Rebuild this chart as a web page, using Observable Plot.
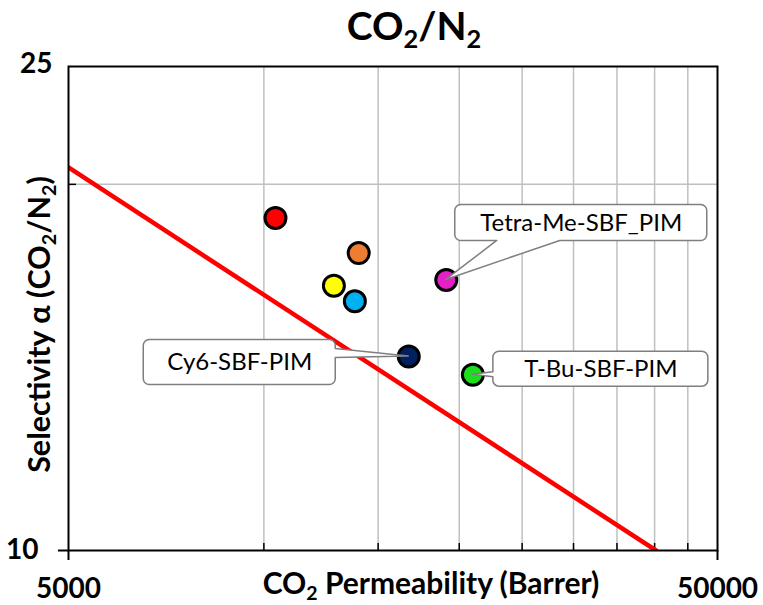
<!DOCTYPE html>
<html><head><meta charset="utf-8">
<script src="https://cdn.jsdelivr.net/npm/d3@7"></script>
<script src="https://cdn.jsdelivr.net/npm/@observablehq/plot@0.6"></script>
<style>html,body{margin:0;padding:0;background:#fff}</style>
</head><body><div id="chart"></div>
<script>
// ---- data ----
const permeability = [10420, 14000, 12820, 13810, 16720, 19100, 20990];
const selectivity  = [18.77, 17.56, 16.51, 16.03, 14.44, 16.69, 13.95];
const pointColors  = ["#FF0000", "#ED7D31", "#FFFF00", "#00B0F0", "#002060", "#E61EC8", "#1EDC1E"];
const pointLabels  = ["", "", "", "", "Cy6-SBF-PIM", "Tetra-Me-SBF_PIM", "T-Bu-SBF-PIM"];
const boundP       = [5000, 40200];   // upper bound line
const boundAlpha   = [20.65, 10];
const xTickLabels  = [5000, 50000];
const yTickLabels  = [25, 10];
const xGridValues  = [10000, 15000, 20000, 25000, 30000, 35000, 40000, 45000];
const yGridValues  = [20];
const titleText    = "CO₂/N₂";
const xTitle       = "CO₂ Permeability (Barrer)";
const yTitle       = "Selectivity α (CO₂/N₂)";

// ---- layout ----
const W = 763, H = 605;
const M = {top: 66, right: 46, bottom: 55, left: 68};
const PW = W - M.left - M.right, PH = H - M.top - M.bottom;
const FONT = "Lato, 'Open Sans', sans-serif";
const calloutLayout = {
  "Tetra-Me-SBF_PIM": {dx: 135, dy: -57, w: 252, h: 36, side: "bottom", b1: -84, b2: -21},
  "T-Bu-SBF-PIM":     {dx: 128, dy: -5.5, w: 215, h: 35, side: "left", b1: 3, b2: 8},
  "Cy6-SBF-PIM":      {dx: -169, dy: 6, w: 192, h: 45, side: "right", b1: -13.5, b2: -4.5}
};

const points = permeability.map((p, i) => ({p, s: selectivity[i], color: pointColors[i], label: pointLabels[i]}));
const bound = boundP.map((p, i) => ({p, s: boundAlpha[i]}));
const labeled = points.filter(d => d.label);

const gridStyle = {stroke: "#c0c0c0", strokeOpacity: 1, strokeWidth: 1.5};
const bold = {fontWeight: "bold", fill: "black", lineAnchor: "middle"};

const plot = Plot.plot({
  width: W, height: H,
  marginTop: M.top, marginRight: M.right, marginBottom: M.bottom, marginLeft: M.left,
  style: {fontFamily: FONT, background: "white", overflow: "visible"},
  x: {type: "log", domain: [xTickLabels[0], xTickLabels[1]], axis: null},
  y: {type: "log", domain: [yTickLabels[1], yTickLabels[0]], axis: null},
  marks: [
    Plot.gridX(xGridValues, {x: d => d, ...gridStyle}),
    Plot.gridY(yGridValues, {y: d => d, ...gridStyle}),
    // minor inside ticks
    Plot.tickX(xGridValues, {x: d => d, stroke: "black", strokeWidth: 1.5, insetTop: PH - 7}),
    Plot.tickY(yGridValues, {y: d => d, stroke: "black", strokeWidth: 1.5, insetRight: PW - 8}),
    // major outside ticks
    Plot.tickX(xTickLabels, {x: d => d, stroke: "black", strokeWidth: 2, insetTop: PH, insetBottom: -10}),
    Plot.tickY([yTickLabels[1]], {y: d => d, stroke: "black", strokeWidth: 2, insetRight: PW, insetLeft: -10}),
    Plot.line(bound, {x: "p", y: "s", stroke: "#FF0000", strokeWidth: 4.5, clip: true}),
    Plot.frame({stroke: "black", strokeWidth: 2}),
    Plot.dot(points, {x: "p", y: "s", r: 10.5, fill: "color", stroke: "black", strokeWidth: 3}),
    // tick labels
    Plot.text(xTickLabels, {x: d => d, text: d => String(d), frameAnchor: "bottom", dy: 39, fontSize: 28, ...bold}),
    Plot.text([yTickLabels[0]], {y: d => d, text: d => String(d), frameAnchor: "left", dx: -16, dy: -2, textAnchor: "end", fontSize: 28, ...bold}),
    Plot.text([yTickLabels[1]], {y: d => d, text: d => String(d), frameAnchor: "left", dx: -30, textAnchor: "end", fontSize: 28, ...bold}),
    // titles
    Plot.text([titleText], {frameAnchor: "top", textAnchor: "middle", dx: 21, dy: -39, fontSize: 39, ...bold}),
    Plot.text([xTitle], {frameAnchor: "bottom", textAnchor: "middle", dx: 38, dy: 34, fontSize: 30, ...bold}),
    Plot.text([yTitle], {frameAnchor: "left", textAnchor: "middle", dx: -28, dy: 16, rotate: -90, fontSize: 30.5, ...bold}),
    // callout labels
    ...labeled.map(d => Plot.text([d], {x: "p", y: "s", text: "label", lineAnchor: "middle",
      dx: calloutLayout[d.label].dx, dy: calloutLayout[d.label].dy, fontSize: 24, fill: "black"}))
  ]
});

document.getElementById("chart").append(plot);

// ---- callout boxes (positioned via the plot's scales) ----
const xs = plot.scale("x"), ys = plot.scale("y");
function calloutPath(cx, cy, w, h, r, side, b1, b2, ax, ay) {
  const x0 = cx - w / 2, x1 = cx + w / 2, y0 = cy - h / 2, y1 = cy + h / 2;
  let p = `M${x0 + r},${y0}H${x1 - r}A${r},${r} 0 0 1 ${x1},${y0 + r}`;
  if (side === "right") p += `V${cy + b1}L${ax},${ay}L${x1},${cy + b2}`;
  p += `V${y1 - r}A${r},${r} 0 0 1 ${x1 - r},${y1}`;
  if (side === "bottom") p += `H${cx + b2}L${ax},${ay}L${cx + b1},${y1}`;
  p += `H${x0 + r}A${r},${r} 0 0 1 ${x0},${y1 - r}`;
  if (side === "left") p += `V${cy + b2}L${ax},${ay}L${x0},${cy + b1}`;
  p += `V${y0 + r}A${r},${r} 0 0 1 ${x0 + r},${y0}Z`;
  return p;
}
const svgNS = "http://www.w3.org/2000/svg";
const svg = plot.tagName.toLowerCase() === "svg" ? plot : plot.querySelector("svg");
const texts = Array.from(svg.querySelectorAll("text"));
const firstLabelText = texts.find(t => calloutLayout[t.textContent]);
const boxG = document.createElementNS(svgNS, "g");
labeled.forEach(d => {
  const L = calloutLayout[d.label];
  const ax = xs.apply(d.p), ay = ys.apply(d.s);
  const path = document.createElementNS(svgNS, "path");
  path.setAttribute("d", calloutPath(ax + L.dx, ay + L.dy, L.w, L.h, 6, L.side, L.b1, L.b2, ax, ay));
  path.setAttribute("fill", "white");
  path.setAttribute("stroke", "#7f7f7f");
  path.setAttribute("stroke-width", "1.5");
  path.setAttribute("stroke-linejoin", "round");
  boxG.append(path);
});
if (firstLabelText) {
  let g = firstLabelText;
  while (g.parentNode !== svg) g = g.parentNode;
  svg.insertBefore(boxG, g);
} else svg.append(boxG);

// ---- subscripts ----
texts.forEach(t => {
  if (t.textContent.includes("₂") && t.children.length === 0) {
    const parts = t.textContent.split("₂");
    t.textContent = "";
    parts.forEach((s, i) => {
      t.append(document.createTextNode(s));
      if (i < parts.length - 1) {
        const ts = document.createElementNS(svgNS, "tspan");
        ts.setAttribute("font-size", "65%");
        ts.setAttribute("baseline-shift", "-0.3em");
        ts.textContent = "2";
        t.append(ts);
      }
    });
  }
});
</script>
</body></html>
